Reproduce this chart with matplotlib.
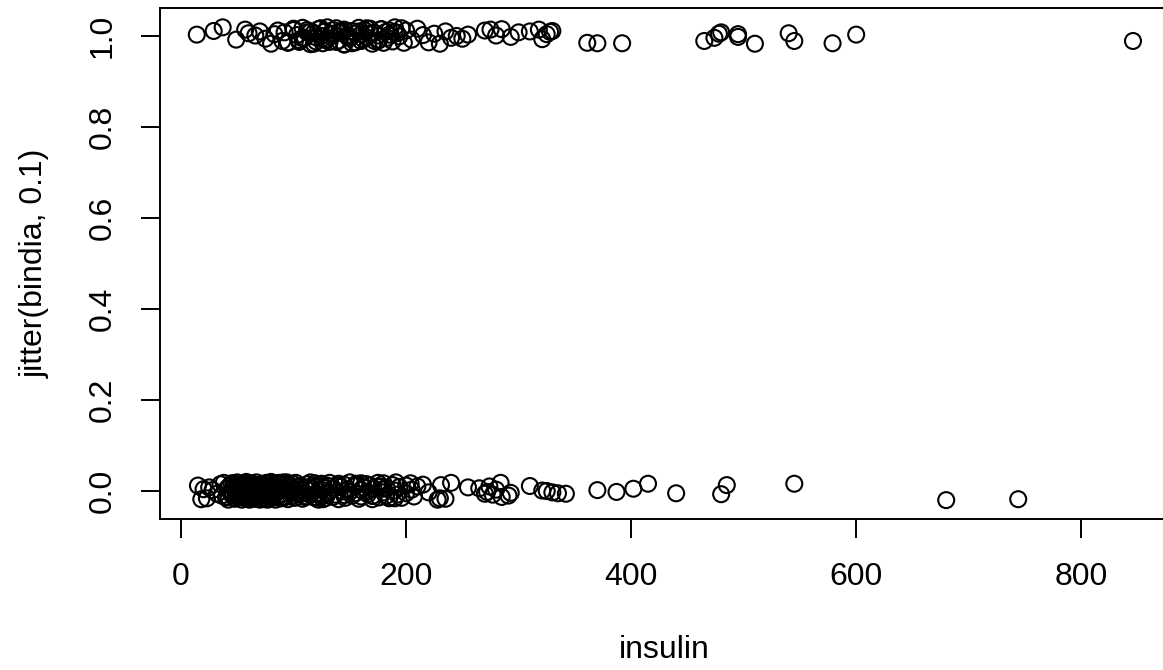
import matplotlib
matplotlib.use("Agg")
import matplotlib.pyplot as plt
import numpy as np

# insulin values, non-diabetic (bindia = 0)
neg_x = [
    15, 18, 20, 23, 25, 28, 32, 35, 36, 38,
    40, 41, 42, 43, 44, 45, 46, 48, 48, 49,
    50, 50, 51, 52, 53, 54, 54, 55, 55, 56,
    56, 57, 58, 58, 59, 60, 60, 61, 63, 63,
    64, 64, 65, 66, 66, 67, 68, 68, 70, 70,
    71, 72, 73, 74, 74, 75, 76, 76, 77, 78,
    78, 79, 80, 81, 82, 82, 83, 84, 85, 85,
    86, 87, 88, 88, 89, 90, 91, 92, 94, 94,
    95, 96, 97, 99, 100, 100, 101, 102, 105, 105,
    106, 108, 110, 110, 112, 112, 114, 115, 115, 116,
    118, 119, 120, 120, 122, 125, 125, 126, 127, 128,
    130, 130, 132, 135, 135, 137, 140, 140, 142, 144,
    145, 146, 148, 150, 152, 155, 155, 156, 158, 160,
    160, 162, 165, 166, 168, 170, 171, 175, 176, 178,
    180, 180, 182, 183, 185, 188, 190, 191, 192, 194,
    196, 200, 200, 204, 205, 207, 210, 215, 220, 228,
    230, 231, 235, 240, 255, 265, 270, 272, 274, 277,
    280, 284, 285, 291, 293, 310, 321, 325, 330, 335,
    342, 370, 387, 402, 415, 440, 480, 485, 545, 680,
    744, 45, 50, 52, 55, 57, 60, 62, 65, 67,
    70, 72, 75, 77, 80, 82, 84, 86, 90, 92,
    48, 53, 58, 63, 68, 73, 79, 83, 87, 93,
    54, 59, 64, 69, 74, 78, 81, 88, 96, 105,
    115, 120, 125, 130, 140, 150, 160, 170, 180, 190,
    42, 47, 51, 56, 61, 66, 71, 76, 82, 89,
    94, 99, 103, 110, 118, 126, 135, 145, 155, 165,
    175, 185,
]
neg_y = [
    0.012, -0.018, 0.004, -0.016, 0.008, 0.002, -0.006, 0.015, -0.010, 0.018,
    -0.014, 0.006, -0.019, 0.011, -0.003, 0.017, -0.008, 0.001, -0.017, 0.013,
    0.019, -0.012, 0.007, -0.005, 0.014, -0.019, 0.003, -0.009, 0.016, -0.015,
    0.009, -0.001, 0.020, -0.013, 0.005, -0.018, 0.012, -0.007, 0.017, -0.011,
    0.002, 0.015, -0.016, 0.008, -0.004, 0.019, -0.010, 0.013, -0.019, 0.006,
    -0.002, 0.016, -0.014, 0.010, -0.008, 0.004, -0.017, 0.018, -0.005, 0.011,
    -0.012, 0.007, 0.020, -0.015, 0.001, -0.009, 0.014, -0.019, 0.009, -0.003,
    0.017, -0.011, 0.005, -0.016, 0.012, -0.006, 0.019, -0.013, 0.003, 0.010,
    -0.018, 0.013, -0.002, 0.016, -0.010, 0.006, -0.015, 0.018, -0.007, 0.002,
    0.011, -0.017, 0.008, -0.004, 0.015, -0.012, 0.001, 0.019, -0.009, 0.005,
    -0.014, 0.017, -0.006, 0.010, -0.019, 0.003, 0.014, -0.011, 0.007, -0.016,
    0.012, -0.003, 0.018, -0.013, 0.006, -0.008, 0.016, -0.018, 0.009, -0.001,
    0.014, -0.015, 0.004, 0.019, -0.010, 0.011, -0.005, 0.016, -0.017, 0.002,
    -0.012, 0.008, 0.015, -0.007, 0.012, -0.018, 0.005, 0.018, -0.014, 0.010,
    -0.003, 0.017, -0.011, 0.006, -0.016, 0.013, 0.001, 0.019, -0.008, 0.009,
    -0.015, 0.012, -0.005, 0.017, 0.003, -0.012, 0.010, 0.014, -0.003, -0.019,
    -0.016, 0.013, -0.017, 0.018, 0.008, 0.006, -0.006, -0.002, 0.010, -0.008,
    0.003, 0.018, -0.013, -0.010, -0.004, 0.011, 0.001, 0.000, -0.003, -0.005,
    -0.006, 0.002, -0.002, 0.005, 0.016, -0.005, -0.007, 0.013, 0.016, -0.020,
    -0.018, -0.008, 0.010, -0.014, 0.004, 0.015, -0.012, 0.007, -0.017, 0.013,
    0.000, -0.010, 0.012, -0.019, 0.006, 0.017, -0.004, 0.009, -0.015, 0.014,
    0.005, -0.011, 0.016, -0.007, 0.002, -0.016, 0.011, -0.001, 0.018, -0.013,
    -0.009, 0.014, -0.003, 0.010, -0.018, 0.007, -0.012, 0.015, 0.001, -0.006,
    0.009, -0.014, 0.016, -0.008, 0.012, -0.002, 0.017, -0.011, 0.005, -0.016,
    -0.013, 0.017, -0.006, 0.011, -0.019, 0.004, 0.015, -0.010, 0.002, -0.016,
    0.019, -0.004, 0.008, -0.013, 0.012, -0.018, 0.006, -0.009, 0.014, -0.002,
    0.010, -0.015,
]

# insulin values, diabetic (bindia = 1)
pos_x = [
    14, 29, 37, 49, 57, 60, 66, 70, 75, 80,
    83, 86, 90, 92, 95, 100, 103, 105, 108, 110,
    112, 115, 118, 120, 122, 125, 126, 128, 130, 130,
    132, 135, 138, 140, 142, 145, 145, 148, 150, 152,
    155, 158, 160, 160, 163, 165, 168, 170, 172, 175,
    176, 178, 180, 182, 185, 188, 190, 192, 194, 196,
    200, 205, 210, 215, 220, 225, 230, 235, 240, 245,
    250, 255, 270, 275, 280, 285, 293, 300, 310, 318,
    321, 325, 328, 330, 361, 370, 392, 465, 474, 478,
    480, 495, 495, 510, 540, 545, 579, 600, 846, 105,
    115, 125, 135, 145, 155, 165, 175, 185, 120, 140,
    95, 100, 108, 112, 118, 124, 128, 133, 138, 143,
    148, 152, 158, 162, 168, 172, 178, 183, 190, 198,
]
pos_y = [
    1.003, 1.011, 1.019, 0.992, 1.014, 1.006, 1.001, 1.010, 0.994, 0.983,
    1.004, 1.012, 0.989, 1.008, 0.985, 1.016, 1.002, 0.991, 1.018, 0.996,
    1.013, 0.982, 1.007, 0.988, 1.015, 1.000, 0.984, 1.010, 0.993, 1.019,
    0.987, 1.005, 1.017, 0.990, 1.009, 0.981, 1.014, 1.002, 0.995, 1.011,
    0.986, 1.018, 1.004, 0.989, 1.013, 0.997, 1.016, 0.983, 1.007, 1.001,
    0.991, 1.015, 0.985, 1.009, 1.003, 0.988, 1.019, 1.006, 0.999, 1.017,
    1.012, 0.992, 1.016, 1.002, 0.986, 1.005, 0.983, 1.010, 0.996, 1.000,
    0.994, 1.003, 1.012, 1.014, 1.001, 1.015, 0.998, 1.008, 1.010, 1.014,
    0.993, 1.004, 1.009, 1.011, 0.985, 0.984, 0.984, 0.989, 0.996, 1.005,
    1.008, 0.998, 1.004, 0.983, 1.006, 0.989, 0.984, 1.003, 0.989, 0.987,
    1.009, 0.994, 1.013, 0.982, 1.005, 1.017, 0.990, 1.012, 0.997, 1.007,
    0.986, 1.013, 0.995, 1.008, 0.983, 1.017, 0.991, 1.004, 0.987, 1.012,
    0.998, 0.984, 1.010, 0.993, 1.006, 0.989, 1.015, 0.996, 1.009, 0.985,
]

xticks = [0, 200, 400, 600, 800]
yticks = [0.0, 0.2, 0.4, 0.6, 0.8, 1.0]
ytick_labels = ["0.0", "0.2", "0.4", "0.6", "0.8", "1.0"]

plt.rcParams['font.family'] = ['Liberation Sans', 'DejaVu Sans']

W, H = 1163, 670
fig = plt.figure(figsize=(W / 100, H / 100), dpi=100)
ax = fig.add_axes([160 / W, 1 - 519 / H, (1169 - 160) / W, (519 - 8) / H])

xs = np.array(neg_x + pos_x, dtype=float)
ys = np.array(neg_y + pos_y, dtype=float)
ax.scatter(xs, ys, s=11.5 ** 2, facecolors='none', edgecolors='black', linewidths=1.5)

ax.set_xlim(-18.7, 878)
ax.set_ylim(-0.0615, 1.0615)
ax.set_xticks(xticks)
ax.set_xticklabels([str(t) for t in xticks])
ax.set_yticks(yticks)
ax.set_yticklabels(ytick_labels, rotation=90, va='center')

for sp in ax.spines.values():
    sp.set_linewidth(1.4)
ax.tick_params(axis='both', direction='out', length=13.7, width=1.4, pad=17,
               labelsize=23, colors='black')

fig.text(664 / W, 1 - 650 / H, "insulin", ha='center', va='center', fontsize=23)
fig.text(35 / W, 1 - 263 / H, "jitter(bindia, 0.1)", ha='center', va='center',
         rotation=90, fontsize=23)

fig.savefig("out.png", dpi=100)
